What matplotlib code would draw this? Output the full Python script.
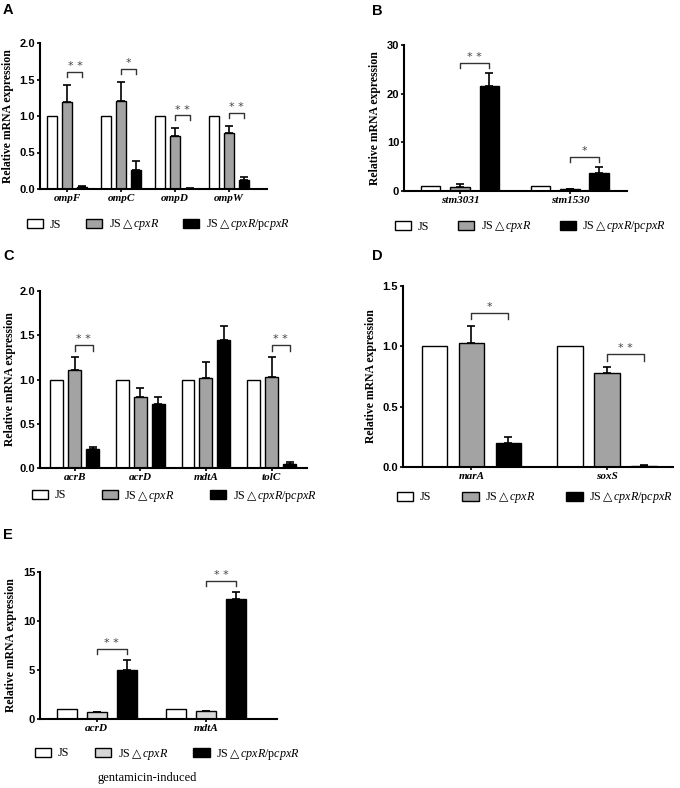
import matplotlib
matplotlib.use("Agg")
import matplotlib.pyplot as plt
import numpy as np

plt.rcParams['mathtext.fontset'] = 'custom'
plt.rcParams['mathtext.rm'] = 'Liberation Serif'
plt.rcParams['mathtext.it'] = 'Liberation Serif:italic'
plt.rcParams['mathtext.bf'] = 'Liberation Serif:bold'
plt.rcParams['mathtext.sf'] = 'DejaVu Sans'

# ---------------- data ----------------
series_labels = ["JS",
                 r"JS$\mathsf{\triangle}\mathit{cpxR}$",
                 r"JS$\mathsf{\triangle}\mathit{cpxR}$/p$\mathit{cpxR}$"]

genes_A = ["ompF", "ompC", "ompD", "ompW"]
js_A = [1.0, 1.0, 1.0, 1.0]
mut_A = [1.19, 1.20, 0.72, 0.77]
mut_err_A = [0.23, 0.27, 0.11, 0.09]
comp_A = [0.03, 0.26, 0.005, 0.12]
comp_err_A = [0.01, 0.12, 0.005, 0.05]
sig_A = ["* *", "*", "* *", "* *"]

genes_B = ["stm3031", "stm1530"]
js_B = [1.0, 1.0]
mut_B = [0.75, 0.35]
mut_err_B = [0.65, 0.15]
comp_B = [21.5, 3.8]
comp_err_B = [2.8, 1.1]
sig_B = ["* *", "*"]

genes_C = ["acrB", "acrD", "mdtA", "tolC"]
js_C = [1.0, 1.0, 1.0, 1.0]
mut_C = [1.11, 0.80, 1.02, 1.03]
mut_err_C = [0.14, 0.10, 0.18, 0.22]
comp_C = [0.21, 0.72, 1.45, 0.05]
comp_err_C = [0.03, 0.08, 0.15, 0.02]
sig_C = ["* *", "", "", "* *"]

genes_D = ["marA", "soxS"]
js_D = [1.0, 1.0]
mut_D = [1.03, 0.78]
mut_err_D = [0.14, 0.05]
comp_D = [0.20, 0.01]
comp_err_D = [0.05, 0.005]
sig_D = ["*", "* *"]

genes_E = ["acrD", "mdtA"]
js_E = [1.0, 1.0]
mut_E = [0.70, 0.78]
mut_err_E = [0.06, 0.05]
comp_E = [5.05, 12.2]
comp_err_E = [1.0, 0.8]
sig_E = ["* *", "* *"]

# ---------------- figure ----------------
W, H = 680, 788
fig = plt.figure(figsize=(W / 100, H / 100), dpi=100)

SERIF = 'Liberation Serif'
SANS = 'Liberation Sans'


def panel(box, genes, js, mut, mut_err, comp, comp_err, sig, ymax, ystep,
          yfmt, width, offset, xlim, gray, sig_frac, ylab_dx, leg_xy, colsp,
          letter, letter_xy):
    l, t, r, b = box
    ax = fig.add_axes([l / W, 1 - b / H, (r - l) / W, (b - t) / H])
    x = np.arange(len(genes))
    bars = []
    for k, (vals, errs, col) in enumerate([(js, None, 'white'),
                                           (mut, mut_err, gray),
                                           (comp, comp_err, 'black')]):
        xs = x + (k - 1) * offset
        bc = ax.bar(xs, vals, width, color=col, edgecolor='black',
                    linewidth=1.0, label=series_labels[k], zorder=2)
        bars.append(bc)
        if errs is not None:
            ax.errorbar(xs, vals, yerr=[np.zeros(len(vals)), errs], fmt='none',
                        ecolor='black', elinewidth=1.2, capsize=3.2,
                        capthick=1.2, zorder=3)
    # significance brackets
    drop = 0.035 * ymax
    for i, s in enumerate(sig):
        if not s:
            continue
        top = max(mut[i] + mut_err[i], comp[i] + comp_err[i])
        yb = top + sig_frac * ymax
        x1, x2 = x[i], x[i] + offset
        ax.plot([x1, x1, x2, x2], [yb - drop, yb, yb, yb - drop],
                color='#333333', lw=1.0, zorder=4, clip_on=False)
        ax.text((x1 + x2) / 2, yb + 0.005 * ymax, s, ha='center',
                va='bottom', fontsize=8, color='#444444',
                family='DejaVu Sans')
    ax.set_xlim(*xlim)
    ax.set_ylim(0, ymax)
    yt = np.arange(0, ymax + 1e-9, ystep)
    ax.set_yticks(yt)
    ax.set_yticklabels([yfmt.format(v) for v in yt], family=SANS,
                       fontweight='bold', fontsize=8)
    ax.set_xticks(x)
    ax.set_xticklabels(genes, family=SERIF, fontstyle='italic',
                       fontweight='bold', fontsize=8)
    for sp in ['top', 'right']:
        ax.spines[sp].set_visible(False)
    for sp in ['left', 'bottom']:
        ax.spines[sp].set_linewidth(1.5)
    ax.tick_params(axis='both', direction='out', length=2.5, width=1.2,
                   pad=1.0)
    ax.set_ylabel("Relative mRNA expression", family=SERIF,
                  fontweight='bold', fontsize=8.5)
    ax.yaxis.set_label_coords(ylab_dx / (r - l), 0.5)
    fig.legend(bars, series_labels, loc='center left',
               bbox_to_anchor=(leg_xy[0] / W, 1 - leg_xy[1] / H), ncol=3,
               frameon=False, borderpad=0, borderaxespad=0,
               handlelength=1.35, handleheight=0.75, handletextpad=0.55,
               columnspacing=colsp, prop=dict(family=SERIF, size=8.7))
    fig.text(letter_xy[0] / W, 1 - letter_xy[1] / H, letter, family=SANS,
             fontweight='bold', fontsize=10.5, ha='left', va='top')
    return ax


panel((40, 43, 267, 189), genes_A, js_A, mut_A, mut_err_A, comp_A,
      comp_err_A, sig_A, 2.0, 0.5, "{:.1f}", 0.186, 0.279, (-0.51, 3.71),
      '#a3a3a3', 0.09, -26, (27, 225), 2.0, "A", (3, 3))

panel((404, 45, 627, 191), genes_B, js_B, mut_B, mut_err_B, comp_B,
      comp_err_B, sig_B, 30, 10, "{:.0f}", 0.18, 0.268, (-0.51, 1.52),
      '#a3a3a3', 0.07, -23, (395, 227), 2.35, "B", (372, 4))

panel((40, 291, 307, 468), genes_C, js_C, mut_C, mut_err_C, comp_C,
      comp_err_C, sig_C, 2.0, 0.5, "{:.1f}", 0.198, 0.274, (-0.53, 3.54),
      '#a3a3a3', 0.07, -24, (32, 496), 2.9, "C", (3, 249))

panel((403, 286, 673, 467), genes_D, js_D, mut_D, mut_err_D, comp_D,
      comp_err_D, sig_D, 1.5, 0.5, "{:.1f}", 0.185, 0.273, (-0.505, 1.487),
      '#a3a3a3', 0.07, -26, (397, 498), 2.55, "D", (372, 249))

panel((40, 572, 277, 719), genes_E, js_E, mut_E, mut_err_E, comp_E,
      comp_err_E, sig_E, 15, 5, "{:.0f}", 0.183, 0.274, (-0.52, 1.65),
      '#d6d6d6', 0.075, -23, (35, 754), 2.1, "E", (3, 528))

fig.text(147 / W, 1 - 778 / H, "gentamicin-induced", family=SERIF,
         fontsize=9, ha='center', va='center')

fig.savefig("out.png", dpi=100)
